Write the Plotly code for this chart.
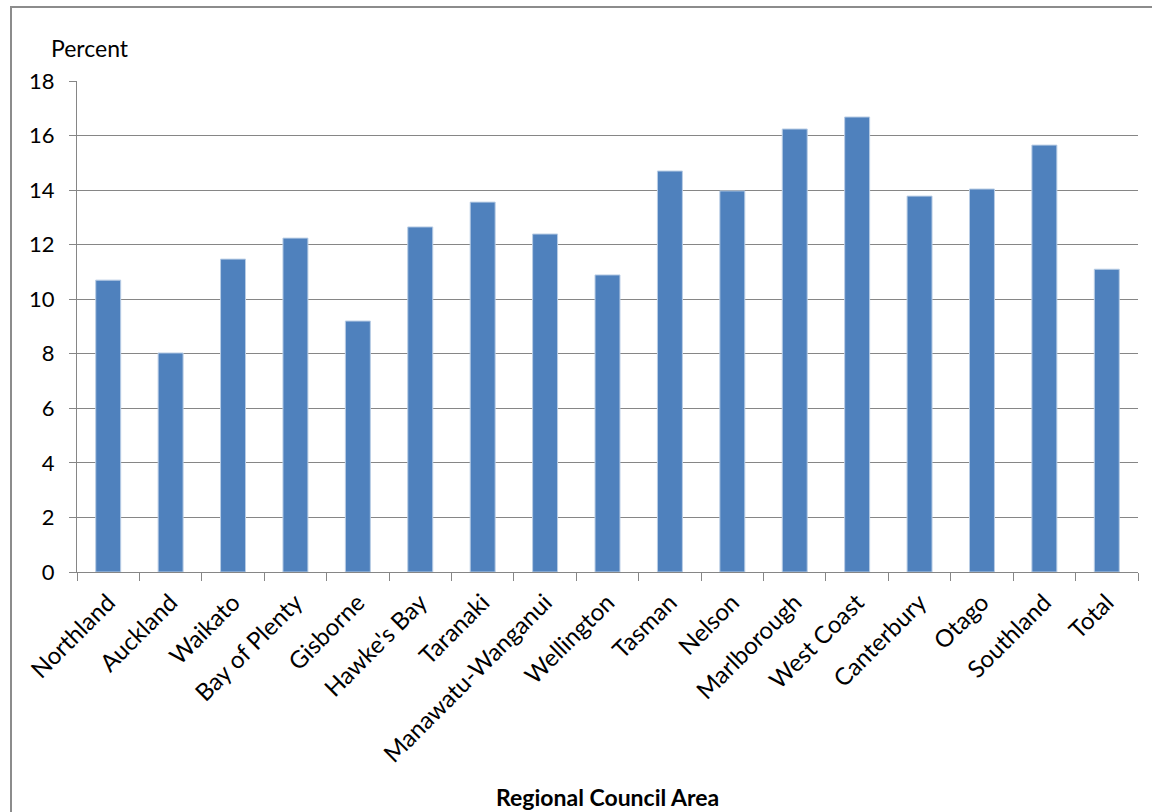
import plotly.graph_objects as go

categories = ["Northland", "Auckland", "Waikato", "Bay of Plenty", "Gisborne", "Hawke's Bay",
              "Taranaki", "Manawatu-Wanganui", "Wellington", "Tasman", "Nelson", "Marlborough",
              "West Coast", "Canterbury", "Otago", "Southland", "Total"]
values = [10.7, 8.03, 11.47, 12.24, 9.2, 12.65, 13.56, 12.39, 10.89, 14.7, 13.97, 16.24,
          16.68, 13.78, 14.04, 15.65, 11.1]
y_ticks = [0, 2, 4, 6, 8, 10, 12, 14, 16, 18]

W, H = 1152, 812
L, R, T, B = 77, 14, 81, 240
pw, ph = W - L - R, H - T - B

def px_x(p):
    return (p - L) / pw

def px_y(p):
    return 1 + (T - p) / ph

FONT = "Lato"

fig = go.Figure(go.Bar(
    x=categories, y=values, width=0.4,
    marker=dict(color="#4F81BD", line=dict(color="#B9CDE5", width=1)),
))

fig.update_layout(
    width=W, height=H,
    margin=dict(l=L, r=R, t=T, b=B),
    paper_bgcolor="white", plot_bgcolor="white",
    showlegend=False,
    font=dict(family=FONT, size=22, color="#000000"),
    xaxis=dict(
        tickangle=-45, tickfont=dict(size=24), showgrid=False,
        showline=True, linecolor="#868686", linewidth=1,
        ticks="outside", tickson="boundaries", ticklen=8, tickcolor="#868686",
        ticklabelstandoff=6,
        automargin=False, range=[-0.5, 16.5],
    ),
    yaxis=dict(
        range=[0, 18], tickvals=y_ticks, tickfont=dict(size=22),
        showgrid=True, gridcolor="#868686", gridwidth=1,
        showline=True, linecolor="#868686", linewidth=1,
        ticks="outside", ticklen=7, tickcolor="#868686",
        ticklabelstandoff=10,
        zeroline=False, automargin=False,
    ),
    shapes=[dict(type="rect", xref="paper", yref="paper",
                 x0=px_x(11), x1=px_x(1200), y0=px_y(900), y1=px_y(7),
                 line=dict(color="#8C8C8C", width=2), fillcolor="rgba(0,0,0,0)", layer="below")],
    annotations=[
        dict(text="Percent", xref="paper", yref="paper",
             x=px_x(49), y=px_y(48), xanchor="left", yanchor="middle",
             showarrow=False, font=dict(size=23, family=FONT)),
        dict(text="<b>Regional Council Area</b>", xref="paper", yref="paper",
             x=0.5, y=px_y(797), xanchor="center", yanchor="middle",
             showarrow=False, font=dict(size=23, family=FONT)),
    ],
)

fig.write_html("out.html")
